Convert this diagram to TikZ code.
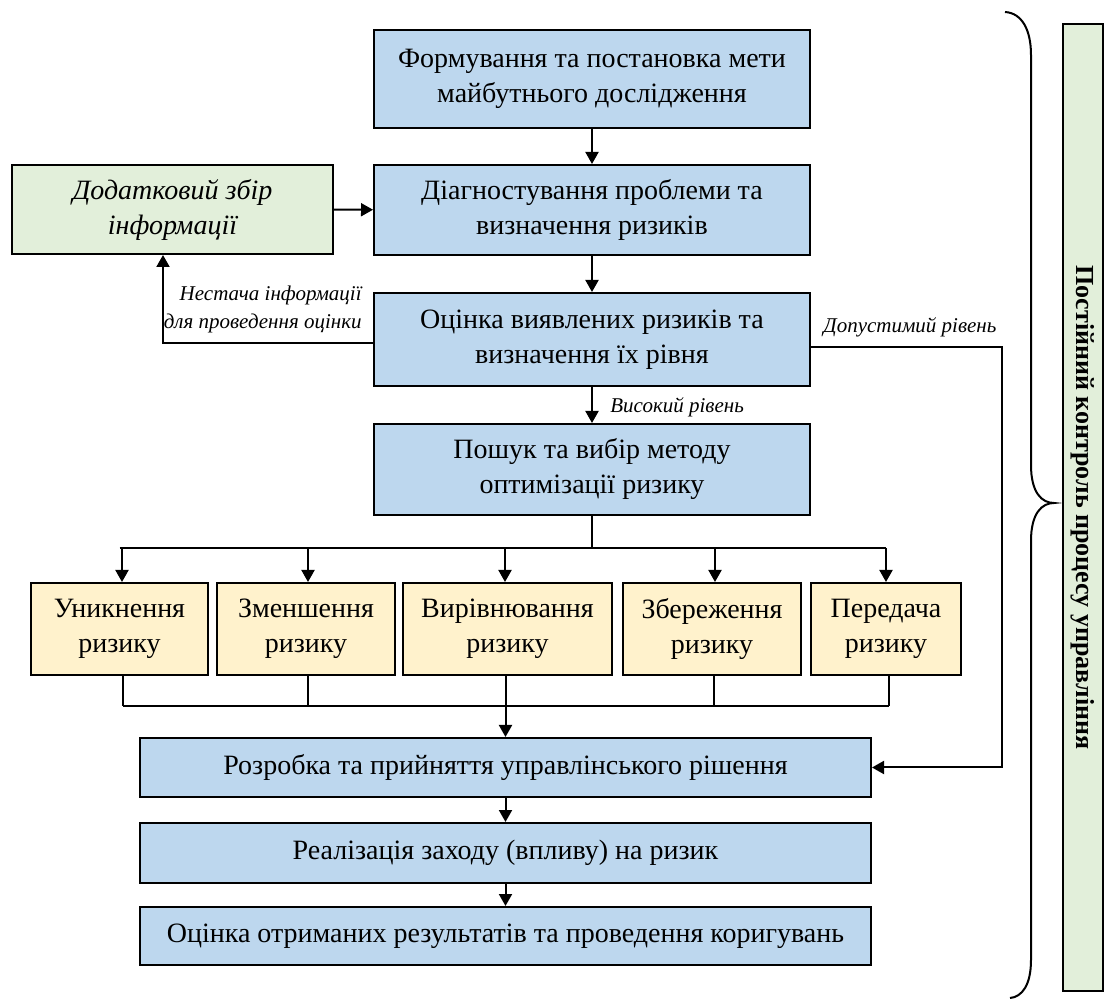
\documentclass[tikz,border=0pt]{standalone}
\usepackage{fontspec}
\setmainfont{Liberation Serif}
\usetikzlibrary{positioning, arrows.meta}

\definecolor{stepblue}{HTML}{BDD7EE}
\definecolor{stepgreen}{HTML}{E2EFDA}
\definecolor{stepyellow}{HTML}{FFF2CC}

\begin{document}
\begin{tikzpicture}[
    x=0.5pt, y=-0.5pt,
    >={Triangle[length=6pt, width=6.5pt]},
    mainbox/.style={
        rectangle,
        draw,
        line width=1pt,
        fill=stepblue,
        minimum width=218pt,
        align=center,
        inner sep=0pt,
        font=\fontsize{14}{17.5}\selectfont
    },
    widebox/.style={
        mainbox,
        minimum width=365.5pt
    },
    methodbox/.style={
        mainbox,
        fill=stepyellow,
        minimum height=46pt,
        minimum width=89pt
    },
    label/.style={
        font=\fontsize{10.5}{14}\selectfont\itshape,
        inner sep=0pt
    },
    arrow/.style={->, line width=1pt},
    line/.style={line width=1pt}
]
\useasboundingbox (0,0) rectangle (1109,999);

% Main chain
\node[mainbox, minimum height=49pt] (goal) at (592,79)
    {Формування та постановка мети\\майбутнього дослідження};
\node[mainbox, minimum height=45pt] (diag) at (592,210)
    {Діагностування проблеми та\\визначення ризиків};
\node[mainbox, minimum height=46.5pt] (assess) at (592,339.5)
    {Оцінка виявлених ризиків та\\визначення їх рівня};
\node[mainbox, minimum height=45.5pt] (search) at (592,469.5)
    {Пошук та вибір методу\\оптимізації ризику};

% Extra information
\node[mainbox, fill=stepgreen, minimum width=160.5pt, minimum height=44.5pt,
    font=\fontsize{14}{17.5}\selectfont\itshape] (extra) at (172.5,209.5)
    {Додатковий збір\\інформації};

% Optimisation methods
\node[methodbox, minimum width=88.5pt] (avoid) at (119.5,629) {Уникнення\\ризику};
\node[methodbox] (reduce) at (306,629) {Зменшення\\ризику};
\node[methodbox, minimum width=104.5pt] (level) at (507.5,629) {Вирівнювання\\ризику};
\node[methodbox] (keep) at (712,629) {Збереження\\ризику};
\node[methodbox, minimum width=75pt] (transfer) at (886,629) {Передача\\ризику};

% Decision and realisation
\node[widebox, minimum height=29.5pt] (decide) at (505.5,767.5)
    {Розробка та прийняття управлінського рішення};
\node[widebox, minimum height=30pt] (implement) at (505.5,853)
    {Реалізація заходу (впливу) на ризик};
\node[widebox, minimum height=29pt] (evaluate) at (505.5,936)
    {Оцінка отриманих результатів та проведення коригувань};

% Control column
\node[draw, line width=1pt, fill=stepgreen, rotate=-90, minimum width=483.5pt,
    minimum height=20pt, inner sep=0pt,
    font=\fontsize{13}{15}\selectfont\bfseries] (control) at (1083,507.5)
    {Постійний контроль процесу управління};

% Arrows - vertical flow
\draw[arrow] (goal) -- (diag);
\draw[arrow] (diag) -- (assess);
\draw[arrow] (assess) -- (search);
\draw[arrow] (extra) -- (diag);
\draw[arrow] (decide) -- (implement);
\draw[arrow] (implement) -- (evaluate);

% Branch to methods
\coordinate (split) at (592,548);
\draw[line] (search) -- (split);
\draw[line] (avoid.north |- split) -- (transfer.north |- split);
\foreach \m/\dx in {avoid/1.25pt, reduce/1pt, level/-1.25pt, keep/1.5pt, transfer/0pt}
    \draw[arrow] ([xshift=\dx]\m.north |- split) -- ([xshift=\dx]\m.north);

% Merge to decision
\coordinate (merge) at (505.5,706);
\foreach \m/\dx in {avoid/1.5pt, reduce/1pt, level/-1pt, keep/1pt, transfer/1.5pt}
    \draw[line] ([xshift=\dx]\m.south) -- ([xshift=\dx]\m.south |- merge);
\draw[line] ([xshift=1.5pt]avoid.south |- merge) -- ([xshift=1.5pt]transfer.south |- merge);
\draw[arrow] (merge) -- (decide);

% Feedback loops
\draw[arrow] ([yshift=-1.75pt]assess.west) -| ([xshift=-4.75pt]extra.south);
\coordinate (tol) at (1002,347);
\draw[arrow] ([yshift=-3.75pt]assess.east) -- (tol) |- (decide.east);

% Side labels
\node[label, anchor=east, align=right] (lack) at (362,309)
    {Нестача інформації\\для проведення оцінки};
\node[label, anchor=west] (tolerable) at (823,327) {Допустимий рівень};
\node[label, anchor=west] (high) at (610,407) {Високий рівень};

% Brace
\draw[line width=1pt] (1005,12) .. controls (1022,13) and (1031,30) .. (1031,55)
    -- (1031,465) .. controls (1031,493) and (1042,503) .. (1054,503)
    .. controls (1042,503) and (1031,513) .. (1031,541)
    -- (1031,960) .. controls (1031,985) and (1022,997) .. (1010,998);

\end{tikzpicture}
\end{document}
